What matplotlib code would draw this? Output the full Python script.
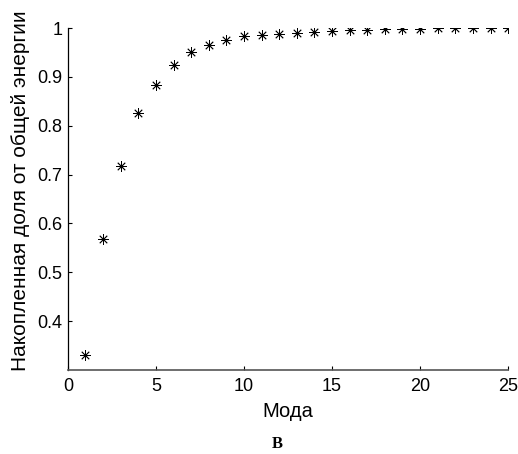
import numpy as np
import matplotlib.pyplot as plt

# Cumulative energy share per mode
modes = np.arange(1, 26)
cum_share = [0.330, 0.568, 0.718, 0.826, 0.884, 0.925, 0.951, 0.965, 0.975, 0.983,
             0.985, 0.988, 0.990, 0.993, 0.994, 0.996, 0.997, 0.998, 0.999, 0.999,
             0.9993, 0.9995, 0.9997, 0.9998, 1.0]
xticks = [0, 5, 10, 15, 20, 25]
yticks = [0.4, 0.5, 0.6, 0.7, 0.8, 0.9, 1.0]
ytick_labels = ['0.4', '0.5', '0.6', '0.7', '0.8', '0.9', '1']

plt.rcParams['font.family'] = ['Liberation Sans', 'DejaVu Sans']

fig = plt.figure(figsize=(5.18, 4.54), dpi=100)
ax = fig.add_axes([0.131, 0.185, 0.850, 0.753])

ax.plot(modes, cum_share, linestyle='none', marker=(8, 2, 0), markersize=7.5,
        color='black', markeredgewidth=0.6)

ax.set_xlim(0, 25)
ax.set_ylim(0.3, 1.0)
ax.set_xticks(xticks)
ax.set_yticks(yticks)
ax.set_yticklabels(ytick_labels)
ax.tick_params(direction='in', length=3, labelsize=13, width=0.8)
ax.tick_params(axis='y', pad=4)
ax.tick_params(axis='x', pad=6)

ax.spines['top'].set_visible(False)
ax.spines['right'].set_visible(False)
ax.spines['left'].set_linewidth(0.9)
ax.spines['bottom'].set_linewidth(1.2)
ax.spines['bottom'].set_color('#555555')

ax.set_xlabel('Мода', fontsize=14.5, labelpad=5)
ax.set_ylabel('Накопленная доля от общей энергии', fontsize=15, labelpad=5)
ax.yaxis.label.set_y(0.525)

fig.text(0.535, 0.013, 'В', fontsize=12, fontweight='bold',
         family='Liberation Serif', ha='center', va='baseline')

fig.savefig('out.png', dpi=100)
